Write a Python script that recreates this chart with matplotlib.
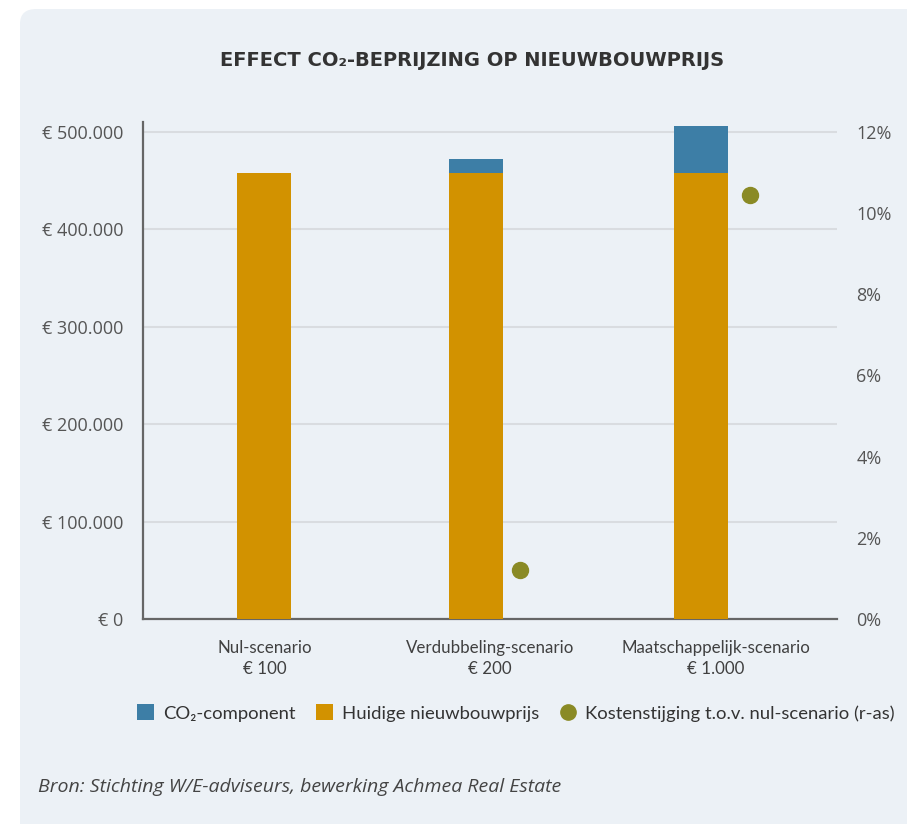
import matplotlib.pyplot as plt
from matplotlib.patches import FancyBboxPatch, Patch
from matplotlib.lines import Line2D
from matplotlib.ticker import FuncFormatter

# Data
scenarios = ["Nul-scenario\n€ 100", "Verdubbeling-scenario\n€ 200",
             "Maatschappelijk-scenario\n€ 1.000"]
huidige_prijs = [458000, 458000, 458000]
co2_component = [0, 14500, 48000]
kostenstijging = [None, 1.2, 10.45]  # percent, right axis

# Colours
c_orange = "#D29200"
c_blue = "#3D7EA6"
c_olive = "#8A8A25"
c_bg = "#ECF1F6"
c_text = "#555555"

# Layout offsets (position of bars/dots relative to category centre)
bar_offset = [0.0, -0.062, -0.066]
dot_offset = [0.0, 0.13, 0.15]
bar_width = 0.24

fig = plt.figure(figsize=(9.07, 8.24), dpi=100)
fig.patch.set_facecolor("white")

W, H = 907, 824
panel = FancyBboxPatch((20 / W, -0.1), 1.2, (824 - 9) / H + 0.1,
                       boxstyle="round,pad=0,rounding_size=0.018",
                       transform=fig.transFigure, facecolor=c_bg,
                       edgecolor="none", zorder=-10)
fig.patches.append(panel)

ax = fig.add_axes([143 / W, 1 - 619 / H, (837 - 143) / W, (619 - 122) / H])
ax.set_facecolor("none")
ax2 = ax.twinx()

x = list(range(len(scenarios)))
xb = [xi + o for xi, o in zip(x, bar_offset)]
ax.bar(xb, huidige_prijs, width=bar_width, color=c_orange, zorder=3)
ax.bar(xb, co2_component, width=bar_width, bottom=huidige_prijs,
       color=c_blue, zorder=3)

xd = [xi + o for xi, o, v in zip(x, dot_offset, kostenstijging) if v is not None]
yd = [v for v in kostenstijging if v is not None]
ax2.plot(xd, yd, linestyle="none", marker="o", markersize=11.5,
         color=c_olive, zorder=4)

ymax = 510000
ax.set_ylim(0, ymax)
ax2.set_ylim(0, 12 * ymax / 500000)
ax.set_xlim(-0.537, 2.535)

ax.set_yticks(range(0, 500001, 100000))
ax.yaxis.set_major_formatter(FuncFormatter(
    lambda v, p: "€ 0" if v == 0 else "€ " + f"{int(v):,}".replace(",", ".")))
ax2.set_yticks(range(0, 13, 2))
ax2.yaxis.set_major_formatter(FuncFormatter(lambda v, p: f"{int(v)}%"))

ax.grid(axis="y", color="#D9DCE0", linewidth=1.5, zorder=0)
ax.set_axisbelow(True)

for a in (ax, ax2):
    for s in ("top", "right"):
        a.spines[s].set_visible(False)
ax2.spines["left"].set_visible(False)
ax2.spines["bottom"].set_visible(False)
ax.spines["left"].set_color("#666666")
ax.spines["bottom"].set_color("#666666")
ax.spines["left"].set_linewidth(1.6)
ax.spines["bottom"].set_linewidth(1.6)

ax.tick_params(axis="y", length=0, pad=14, labelsize=13, labelcolor=c_text)
ax2.tick_params(axis="y", length=0, pad=14, labelsize=13, labelcolor=c_text)
for lab in ax.get_yticklabels() + ax2.get_yticklabels():
    lab.set_family("Open Sans")

ax.set_xticks(x)
ax.set_xticklabels(scenarios, family="Lato", fontsize=12.2,
                   color="#404040", linespacing=1.4)
ax.tick_params(axis="x", length=0, pad=15)

fig.text(472 / W, 1 - 60 / H, "EFFECT CO₂-BEPRIJZING OP NIEUWBOUWPRIJS",
         ha="center", va="center", fontsize=14, fontweight="bold",
         color="#333333", family="DejaVu Sans")

handles = [Patch(facecolor=c_blue, edgecolor="none"),
           Patch(facecolor=c_orange, edgecolor="none"),
           Line2D([], [], linestyle="none", marker="o", markersize=11,
                  color=c_olive)]
labels = ["CO₂-component", "Huidige nieuwbouwprijs",
          "Kostenstijging t.o.v. nul-scenario (r-as)"]
fig.legend(handles, labels, loc="center", bbox_to_anchor=(516 / W, 1 - 713 / H),
           ncol=3, frameon=False, handlelength=0.9, handleheight=0.9,
           handletextpad=0.5, columnspacing=1.1,
           prop={"family": "Lato", "size": 13.3}, labelcolor="#333333")

fig.text(38 / W, 1 - 787 / H,
         "Bron: Stichting W/E-adviseurs, bewerking Achmea Real Estate",
         ha="left", va="center", fontsize=14, style="italic",
         color="#444444", family="Open Sans")

fig.savefig("out.png", dpi=100, facecolor=fig.get_facecolor())
